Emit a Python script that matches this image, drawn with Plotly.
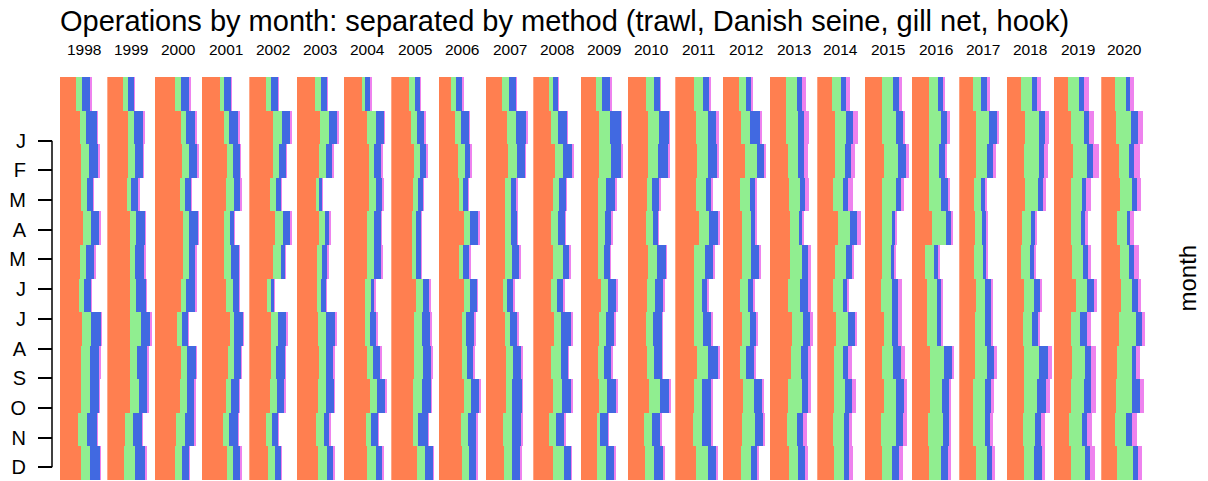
import plotly.graph_objects as go

# one panel per year, bars are months (top = January)
years = list(range(1998, 2021))
months = ["Jan", "Feb", "Mar", "Apr", "May", "Jun",
          "Jul", "Aug", "Sep", "Oct", "Nov", "Dec"]
month_ticks = ["J", "F", "M", "A", "M", "J", "J", "A", "S", "O", "N", "D"]

# operations per month, one row per year (1998..2020)
trawl = [
    [49, 60, 64, 62, 70, 60, 57, 67, 64, 64, 55, 64],
    [47, 62, 64, 60, 69, 68, 68, 70, 68, 68, 54, 52],
    [60, 77, 82, 76, 83, 85, 77, 65, 79, 74, 64, 60],
    [55, 67, 75, 73, 65, 67, 73, 84, 79, 71, 63, 74],
    [52, 72, 72, 64, 78, 72, 54, 67, 65, 64, 52, 57],
    [54, 68, 67, 58, 67, 60, 60, 63, 65, 64, 58, 62],
    [53, 68, 74, 76, 68, 68, 62, 62, 70, 78, 65, 68],
    [55, 59, 69, 66, 64, 62, 75, 68, 68, 66, 67, 78],
    [37, 49, 58, 60, 75, 60, 75, 68, 70, 75, 66, 70],
    [47, 62, 65, 57, 56, 56, 50, 56, 59, 59, 51, 53],
    [47, 53, 65, 61, 54, 59, 53, 62, 55, 60, 49, 61],
    [46, 55, 55, 52, 51, 51, 59, 55, 51, 53, 47, 48],
    [55, 61, 59, 56, 53, 61, 58, 53, 56, 62, 47, 51],
    [57, 62, 66, 64, 72, 57, 58, 58, 66, 57, 53, 62],
    [48, 54, 65, 51, 56, 56, 50, 56, 50, 61, 58, 54],
    [49, 49, 55, 58, 60, 60, 55, 65, 62, 55, 51, 57],
    [44, 53, 54, 49, 62, 54, 47, 58, 50, 50, 48, 52],
    [51, 51, 56, 52, 51, 50, 49, 56, 51, 56, 49, 51],
    [50, 50, 50, 52, 61, 40, 46, 46, 55, 54, 48, 52],
    [42, 51, 51, 45, 48, 45, 50, 49, 47, 43, 41, 51],
    [42, 54, 50, 53, 46, 42, 52, 47, 52, 52, 49, 52],
    [43, 51, 56, 52, 51, 53, 65, 52, 55, 50, 45, 50],
    [42, 46, 54, 58, 48, 58, 59, 53, 47, 45, 41, 48],
]
danish_seine = [
    [18, 18, 23, 20, 24, 19, 15, 27, 26, 26, 27, 25],
    [15, 18, 19, 13, 18, 15, 18, 32, 23, 28, 23, 32],
    [19, 17, 20, 13, 18, 16, 17, 16, 16, 22, 27, 21],
    [11, 15, 18, 23, 18, 20, 19, 13, 17, 17, 19, 19],
    [13, 26, 19, 18, 23, 23, 11, 21, 17, 20, 16, 22],
    [17, 27, 21, 8, 18, 16, 12, 25, 21, 24, 22, 28],
    [11, 28, 16, 19, 21, 22, 19, 16, 18, 22, 15, 27],
    [17, 19, 18, 15, 12, 13, 21, 25, 28, 27, 15, 23],
    [15, 17, 19, 11, 19, 12, 18, 14, 15, 22, 21, 21],
    [22, 29, 29, 19, 20, 23, 13, 16, 21, 18, 27, 26],
    [13, 23, 24, 18, 20, 31, 19, 23, 29, 28, 20, 31],
    [17, 33, 35, 24, 22, 18, 23, 19, 18, 25, 10, 27],
    [22, 32, 30, 17, 22, 27, 23, 21, 23, 33, 25, 27],
    [26, 36, 32, 30, 31, 34, 23, 27, 33, 24, 27, 36],
    [22, 27, 36, 29, 27, 29, 26, 25, 20, 32, 37, 29],
    [32, 36, 30, 33, 27, 35, 35, 33, 31, 40, 30, 28],
    [27, 34, 31, 30, 36, 33, 30, 34, 28, 35, 33, 29],
    [34, 43, 44, 40, 30, 28, 32, 25, 34, 38, 44, 30],
    [29, 36, 32, 35, 41, 27, 29, 30, 42, 37, 44, 36],
    [25, 39, 34, 22, 22, 26, 28, 30, 38, 34, 38, 32],
    [34, 43, 46, 41, 27, 28, 28, 27, 44, 38, 35, 30],
    [33, 40, 44, 31, 30, 35, 34, 27, 37, 40, 38, 43],
    [32, 44, 30, 36, 30, 26, 35, 51, 45, 49, 35, 48],
]
gill_net = [
    [25, 33, 29, 17, 25, 25, 22, 30, 29, 28, 29, 32],
    [20, 30, 25, 22, 27, 29, 31, 27, 31, 26, 29, 32],
    [25, 28, 25, 19, 28, 21, 27, 19, 28, 23, 28, 22],
    [22, 27, 22, 20, 13, 24, 19, 26, 21, 23, 26, 23],
    [22, 27, 21, 14, 23, 14, 11, 25, 27, 23, 20, 18],
    [19, 27, 19, 10, 13, 16, 15, 28, 23, 23, 18, 20],
    [16, 24, 23, 20, 22, 22, 11, 19, 22, 25, 23, 21],
    [16, 23, 20, 16, 14, 15, 20, 26, 26, 27, 29, 25],
    [19, 25, 17, 16, 25, 20, 21, 24, 18, 24, 25, 20],
    [22, 31, 23, 15, 17, 22, 20, 23, 27, 31, 29, 25],
    [16, 26, 30, 20, 22, 20, 20, 29, 21, 27, 26, 22],
    [25, 32, 32, 28, 19, 19, 24, 27, 23, 29, 24, 26],
    [19, 30, 32, 22, 15, 26, 25, 28, 23, 28, 25, 27],
    [19, 26, 28, 15, 25, 23, 17, 24, 30, 27, 28, 26],
    [16, 29, 22, 18, 13, 23, 15, 18, 23, 25, 24, 21],
    [15, 18, 18, 15, 10, 20, 24, 22, 21, 19, 19, 21],
    [17, 22, 16, 15, 21, 17, 14, 21, 15, 21, 15, 14],
    [18, 21, 23, 17, 9, 10, 19, 19, 24, 23, 22, 22],
    [15, 19, 19, 21, 16, 11, 14, 13, 22, 21, 20, 20],
    [18, 23, 17, 11, 11, 11, 18, 18, 19, 20, 14, 17],
    [14, 17, 15, 14, 10, 12, 20, 19, 27, 26, 19, 23],
    [15, 15, 18, 14, 11, 13, 20, 19, 20, 22, 17, 16],
    [12, 21, 16, 14, 10, 16, 16, 18, 14, 22, 18, 16],
]
hook = [
    [2, 2, 3, 2, 3, 2, 2, 2, 2, 2, 2, 2],
    [1, 3, 3, 3, 3, 3, 3, 4, 4, 3, 2, 4],
    [4, 4, 3, 2, 3, 2, 3, 2, 3, 3, 3, 2],
    [2, 3, 2, 3, 2, 2, 2, 3, 3, 3, 3, 3],
    [2, 3, 2, 2, 3, 2, 1, 2, 2, 2, 2, 2],
    [2, 4, 2, 2, 2, 2, 2, 4, 3, 2, 2, 2],
    [2, 3, 3, 4, 3, 3, 3, 3, 3, 3, 2, 3],
    [2, 5, 3, 2, 3, 3, 3, 3, 2, 3, 3, 3],
    [2, 2, 3, 2, 4, 2, 3, 6, 5, 3, 3, 6],
    [2, 4, 3, 3, 3, 2, 3, 3, 2, 2, 3, 3],
    [2, 3, 3, 2, 3, 3, 3, 4, 3, 3, 3, 3],
    [3, 3, 3, 2, 2, 2, 3, 3, 4, 4, 3, 4],
    [3, 3, 3, 3, 3, 3, 3, 2, 3, 5, 3, 4],
    [7, 7, 5, 5, 6, 6, 4, 5, 5, 4, 5, 5],
    [4, 8, 7, 4, 4, 5, 5, 6, 4, 4, 7, 5],
    [12, 15, 11, 10, 6, 7, 10, 10, 9, 9, 10, 9],
    [11, 13, 12, 13, 14, 8, 6, 8, 13, 12, 10, 14],
    [7, 6, 9, 7, 6, 4, 12, 10, 10, 10, 10, 11],
    [3, 9, 3, 5, 3, 5, 4, 5, 7, 6, 6, 8],
    [7, 6, 8, 5, 4, 3, 5, 5, 10, 7, 9, 9],
    [12, 12, 12, 10, 7, 4, 6, 7, 11, 13, 12, 10],
    [15, 13, 17, 13, 11, 9, 10, 12, 14, 14, 14, 13],
    [12, 14, 16, 12, 10, 13, 10, 9, 12, 12, 14, 10],
]

methods = [
    ("trawl", trawl, "coral"),
    ("Danish seine", danish_seine, "lightgreen"),
    ("gill net", gill_net, "royalblue"),
    ("hook", hook, "violet"),
]

FONT = "Liberation Sans, Arial, sans-serif"
W, H = 1208, 481
m_left, m_right, m_top, m_bottom = 52, 59, 77, 1
plot_w = W - m_left - m_right
panel_px = 47.33     # width of one year panel in pixels
panel_max = 142      # operations that fill one panel
first_px = 8         # gap between the month axis and the first panel

fig = go.Figure()
layout_axes = {}
annotations = []
for k, year in enumerate(years):
    suffix = "" if k == 0 else str(k + 1)
    for name, data, color in methods:
        fig.add_trace(go.Bar(
            x=data[k], y=months, orientation="h", name=name,
            marker=dict(color=color, line=dict(width=0)),
            xaxis="x" + suffix, yaxis="y", showlegend=False,
        ))
    d0 = (first_px + k * panel_px) / plot_w
    layout_axes["xaxis" + suffix] = dict(
        domain=[d0, d0 + panel_px / plot_w], range=[0, panel_max],
        visible=False, anchor="y", fixedrange=True,
    )
    annotations.append(dict(
        text=str(year), xref="x" + suffix + " domain", x=0.5,
        yref="paper", y=1 + 27 / (H - m_top - m_bottom),
        xanchor="center", yanchor="middle", showarrow=False,
        font=dict(size=15.5, color="black", family=FONT),
    ))

# dummy trace so the month axis gets drawn
fig.add_trace(go.Scatter(x=[None], y=[None], xaxis="x", yaxis="y2",
                         showlegend=False, hoverinfo="skip"))

annotations.append(dict(
    text="month", xref="paper", x=(1187 - m_left) / plot_w,
    yref="paper", y=0.5, textangle=-90, showarrow=False,
    xanchor="center", yanchor="middle",
    font=dict(size=24, color="black", family=FONT),
))

fig.update_layout(
    width=W, height=H,
    margin=dict(l=m_left, r=m_right, t=m_top, b=m_bottom),
    paper_bgcolor="white", plot_bgcolor="white",
    barmode="stack", bargap=0,
    title=dict(
        text="Operations by month: separated by method (trawl, Danish seine, gill net, hook)",
        x=60 / W, xref="container", xanchor="left",
        y=1 - 21 / H, yref="container", yanchor="middle",
        font=dict(size=29, color="black", family=FONT),
    ),
    yaxis=dict(
        categoryorder="array", categoryarray=months, autorange="reversed",
        visible=False, domain=[0, 1], fixedrange=True,
    ),
    yaxis2=dict(
        overlaying="y", anchor="free", position=0, side="left",
        range=[12.428, -1.145], tickvals=list(range(1, 13)), ticktext=month_ticks,
        ticks="outside", ticklen=14, tickwidth=1.5, tickcolor="black",
        showgrid=False, zeroline=False, showline=False, ticklabelstandoff=8,
        tickfont=dict(size=20, color="black", family=FONT), fixedrange=True,
    ),
    shapes=[dict(type="line", xref="paper", x0=0, x1=0, yref="y2", y0=1, y1=12,
                 line=dict(color="black", width=1.5))],
    annotations=annotations,
    **layout_axes,
)

# the page's default body margin would shift the chart by 8px
fig.write_html("out.html", config={"displayModeBar": False},
               post_script="document.body.style.margin = '0';")
